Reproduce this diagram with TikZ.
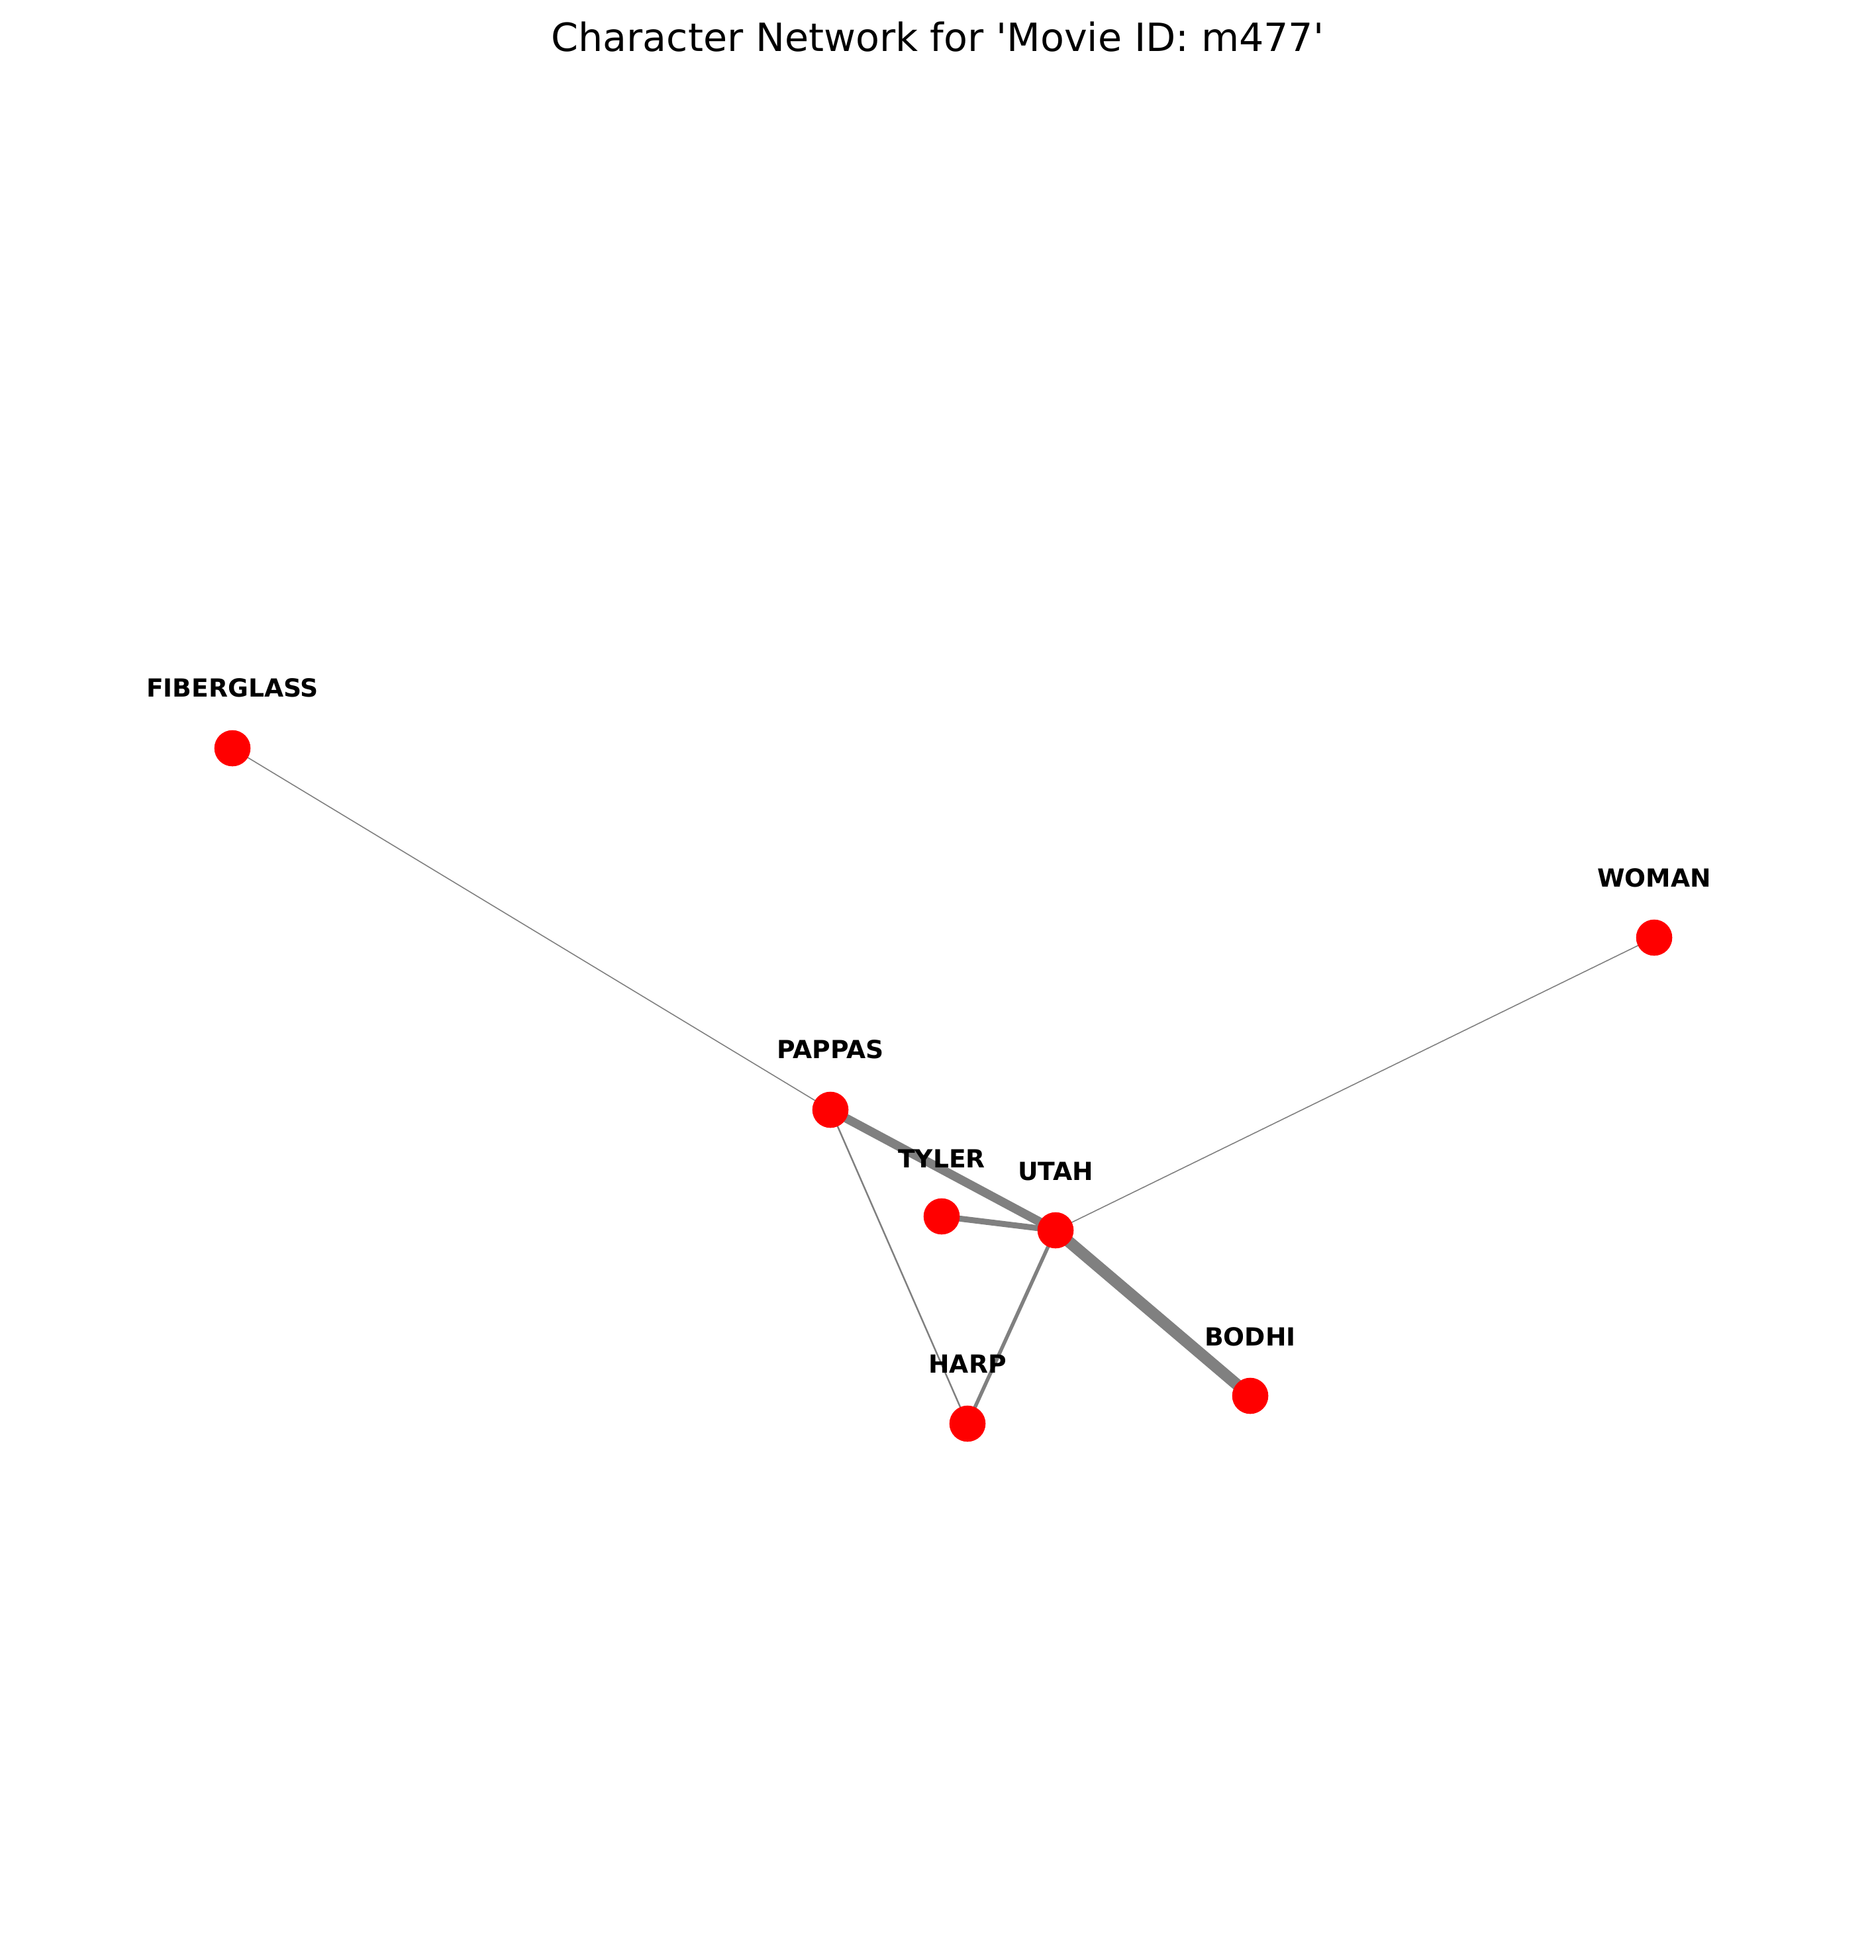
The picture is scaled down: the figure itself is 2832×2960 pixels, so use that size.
\documentclass[tikz,border=0pt]{standalone}
\usepackage{fontspec}
\setmainfont{DejaVu Sans}
\usetikzlibrary{positioning, backgrounds}

\begin{document}
\begin{tikzpicture}[x=0.01cm, y=-0.01cm,
  char/.style={circle, fill=red, inner sep=0pt, minimum size=0.546cm},
  lab/.style={inner sep=0pt, font=\fontsize{10.7}{12}\selectfont\bfseries},
  tie/.style={draw=gray, line width=#1}]

\useasboundingbox (0,0) rectangle (2832,2960);

% Title
\node[anchor=base, inner sep=0pt, font=\fontsize{16.7}{20}\selectfont] (title) at (1416,77)
  {Character Network for \textquotesingle Movie ID: m477\textquotesingle};

% Characters
\node[char] (FIBERGLASS) at (351,1130) {};
\node[char] (WOMAN) at (2498,1416) {};
\node[char] (PAPPAS) at (1254,1676) {};
\node[char] (TYLER) at (1422,1837) {};
\node[char] (UTAH) at (1594,1858) {};
\node[char] (HARP) at (1461,2150) {};
\node[char] (BODHI) at (1888,2108) {};

% Names above the characters
\node[lab, above=0.48cm of FIBERGLASS] (lFIBERGLASS) {FIBERGLASS};
\node[lab, above=0.47cm of WOMAN] (lWOMAN) {WOMAN};
\node[lab, above=0.48cm of PAPPAS] (lPAPPAS) {PAPPAS};
\node[lab, above=0.45cm of TYLER] (lTYLER) {TYLER};
\node[lab, above=0.46cm of UTAH] (lUTAH) {UTAH};
\node[lab, above=0.48cm of HARP] (lHARP) {HARP};
\node[lab, above=0.46cm of BODHI] (lBODHI) {BODHI};

% Edges, width by number of exchanges
\begin{pgfonlayer}{background}
\draw[tie=0.45pt] (FIBERGLASS.center) -- (PAPPAS.center);
\draw[tie=0.45pt] (UTAH.center) -- (WOMAN.center);
\draw[tie=0.7pt] (PAPPAS.center) -- (HARP.center);
\draw[tie=1.55pt] (UTAH.center) -- (HARP.center);
\draw[tie=2.55pt] (TYLER.center) -- (UTAH.center);
\draw[tie=3.8pt] (PAPPAS.center) -- (UTAH.center);
\draw[tie=5pt] (UTAH.center) -- (BODHI.center);
\end{pgfonlayer}

\end{tikzpicture}
\end{document}
